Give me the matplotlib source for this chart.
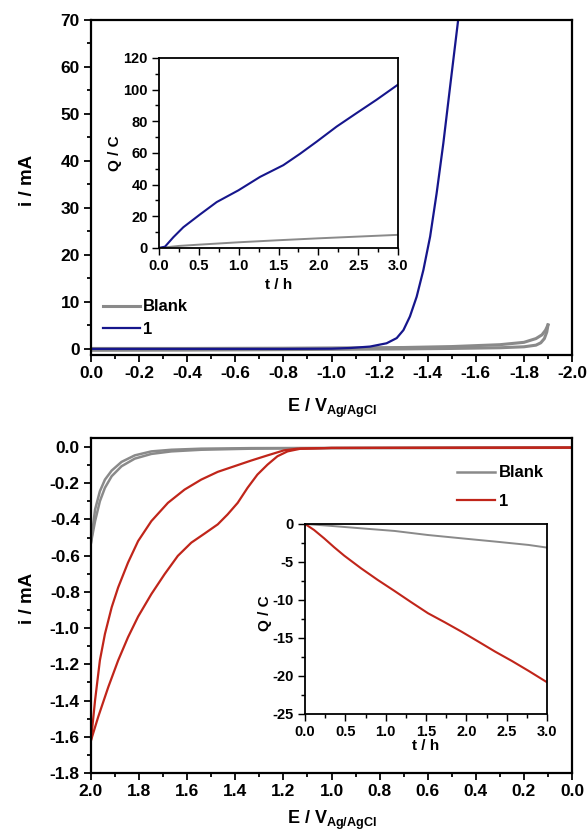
import numpy as np
import matplotlib.pyplot as plt
from matplotlib.ticker import MultipleLocator

plt.rcParams['font.family'] = ['Liberation Sans', 'DejaVu Sans']
plt.rcParams['font.weight'] = 'bold'
plt.rcParams['axes.unicode_minus'] = False
plt.rcParams['mathtext.fontset'] = 'custom'
plt.rcParams['mathtext.bf'] = 'Liberation Sans:bold'
plt.rcParams['mathtext.rm'] = 'Liberation Sans:bold'

GRAY = '#8a8a8a'
BLUE = '#16168c'
RED = '#c0251a'

# ---- top panel: cathodic sweep ----
E_blue = [0.0, -0.4, -0.8, -1.0, -1.08, -1.16, -1.229, -1.271, -1.299, -1.326,
          -1.354, -1.382, -1.410, -1.437, -1.465, -1.493, -1.527]
i_blue = [0.0, 0.0, 0.0, 0.05, 0.2, 0.5, 1.2, 2.3, 4.0, 6.9,
          11.1, 16.8, 23.9, 33.1, 43.8, 55.8, 70.2]
E_blank_fwd = [0.0, -0.4, -0.8, -1.3, -1.5, -1.7, -1.8, -1.85, -1.875, -1.89, -1.9]
i_blank_fwd = [0.1, 0.1, 0.15, 0.3, 0.5, 0.9, 1.4, 2.2, 3.0, 4.0, 5.1]
E_blank_rev = [-1.9, -1.895, -1.885, -1.87, -1.85, -1.8, -1.7, -1.5, -1.3, -0.8, -0.4, 0.0]
i_blank_rev = [5.1, 3.6, 2.2, 1.3, 0.8, 0.45, 0.25, 0.1, 0.0, -0.15, -0.25, -0.3]

t_top = [0.0, 0.075, 0.18, 0.305, 0.515, 0.724, 0.996, 1.268, 1.56, 1.77,
         1.98, 2.23, 2.48, 2.73, 3.0]
Q_blue = [0.0, 0.85, 6.8, 13.1, 21.2, 29.0, 36.4, 44.9, 52.3, 59.5,
          67.2, 76.7, 85.2, 93.6, 103.2]
t_blank_top = [0.0, 0.25, 0.5, 1.0, 1.5, 2.0, 2.5, 3.0]
Q_blank_top = [0.0, 1.3, 2.1, 3.6, 4.9, 6.1, 7.2, 8.3]

# ---- bottom panel: anodic sweep ----
E_blank2_out = [2.0, 1.983, 1.963, 1.942, 1.914, 1.873, 1.818, 1.749, 1.666,
                1.542, 1.335, 1.0, 0.5, 0.0]
i_blank2_out = [-0.528, -0.409, -0.299, -0.225, -0.161, -0.106, -0.064, -0.038,
                -0.024, -0.015, -0.009, -0.006, -0.005, -0.004]
E_blank2_in = [2.0, 1.983, 1.963, 1.942, 1.914, 1.873, 1.818, 1.749, 1.666,
               1.542, 1.335, 1.0, 0.5, 0.0]
i_blank2_in = [-0.528, -0.345, -0.244, -0.18, -0.13, -0.082, -0.046, -0.024,
               -0.015, -0.009, -0.006, -0.005, -0.004, -0.003]

E_red_in = [2.0, 1.983, 1.963, 1.942, 1.914, 1.887, 1.846, 1.804, 1.749, 1.680,
            1.611, 1.542, 1.473, 1.404, 1.335, 1.266, 1.197, 1.142, 1.0, 0.5, 0.0]
i_red_in = [-1.62, -1.398, -1.178, -1.032, -0.885, -0.775, -0.638, -0.519, -0.409,
            -0.308, -0.235, -0.180, -0.137, -0.106, -0.075, -0.046, -0.018,
            -0.009, -0.005, -0.004, -0.003]
E_red_out = [2.0, 1.970, 1.928, 1.887, 1.846, 1.804, 1.749, 1.694, 1.639, 1.583,
             1.528, 1.473, 1.432, 1.390, 1.349, 1.308, 1.266, 1.225, 1.183,
             1.128, 1.0, 0.5, 0.0]
i_red_out = [-1.62, -1.49, -1.325, -1.178, -1.05, -0.936, -0.812, -0.702, -0.601,
             -0.528, -0.478, -0.427, -0.372, -0.308, -0.225, -0.152, -0.097,
             -0.051, -0.024, -0.009, -0.005, -0.004, -0.003]

t_bot = [0.0, 0.112, 0.237, 0.362, 0.486, 0.694, 0.902, 1.11, 1.317, 1.525,
         1.733, 1.94, 2.149, 2.357, 2.565, 2.773, 3.0]
Q_red = [0.0, -0.79, -1.89, -3.07, -4.17, -5.83, -7.37, -8.82, -10.3, -11.75,
         -12.94, -14.17, -15.48, -16.8, -18.03, -19.34, -20.83]
t_blank_bot = [0.0, 0.28, 0.69, 1.11, 1.52, 1.94, 2.36, 2.77, 3.0]
Q_blank_bot = [0.0, -0.22, -0.57, -0.92, -1.45, -1.89, -2.32, -2.76, -3.11]


def style(ax, size, lw=1.6):
    for s in ax.spines.values():
        s.set_linewidth(lw)
    ax.tick_params(which='both', direction='out', width=lw * 0.8,
                   labelsize=size, top=False, right=False)
    ax.tick_params(which='major', length=5, pad=3)
    ax.tick_params(which='minor', length=3)
    for lab in ax.get_xticklabels() + ax.get_yticklabels():
        lab.set_fontweight('bold')


fig = plt.figure(figsize=(5.87, 8.33), dpi=100)

# top main
ax1 = fig.add_axes([0.155, 0.5738, 0.8195, 0.4022])
ax1.plot(E_blank_fwd, i_blank_fwd, color=GRAY, lw=2.2, label='Blank')
ax1.plot(E_blank_rev, i_blank_rev, color=GRAY, lw=2.2)
ax1.plot(E_blue, i_blue, color=BLUE, lw=1.6, label='1')
ax1.set_xlim(0, -2.0)
ax1.set_ylim(-1.3, 70)
ax1.xaxis.set_major_locator(MultipleLocator(0.2))
ax1.xaxis.set_minor_locator(MultipleLocator(0.1))
ax1.yaxis.set_major_locator(MultipleLocator(10))
ax1.yaxis.set_minor_locator(MultipleLocator(5))
ax1.set_xlabel(r'E / V$_{\mathbf{Ag/AgCl}}$', fontsize=13, fontweight='bold')
ax1.set_ylabel('i / mA', fontsize=13.5, fontweight='bold')
ax1.xaxis.set_label_coords(0.5, -0.124)
ax1.yaxis.set_label_coords(-0.114, 0.52)
style(ax1, 12.5)
ax1.legend(loc='upper left', bbox_to_anchor=(0.025, 0.166), frameon=False,
           borderpad=0, borderaxespad=0,
           handlelength=2.2, handletextpad=0.2, labelspacing=0.45,
           prop={'weight': 'bold', 'size': 12})

# top inset
ax2 = fig.add_axes([0.2709, 0.7023, 0.4072, 0.2281])
ax2.plot(t_blank_top, Q_blank_top, color=GRAY, lw=1.4)
ax2.plot(t_top, Q_blue, color=BLUE, lw=1.5)
ax2.set_xlim(0, 3)
ax2.set_ylim(0, 120)
ax2.xaxis.set_major_locator(MultipleLocator(0.5))
ax2.xaxis.set_minor_locator(MultipleLocator(0.25))
ax2.yaxis.set_major_locator(MultipleLocator(20))
ax2.yaxis.set_minor_locator(MultipleLocator(10))
ax2.set_xlabel('t / h', fontsize=11, fontweight='bold')
ax2.set_ylabel('Q / C', fontsize=11, fontweight='bold')
ax2.xaxis.set_label_coords(0.5, -0.16)
ax2.yaxis.set_label_coords(-0.154, 0.5)
style(ax2, 10.5, lw=1.3)

# bottom main
ax3 = fig.add_axes([0.155, 0.0720, 0.8195, 0.4022])
ax3.plot(E_blank2_out, i_blank2_out, color=GRAY, lw=1.8, label='Blank')
ax3.plot(E_blank2_in, i_blank2_in, color=GRAY, lw=1.8)
ax3.plot(E_red_in, i_red_in, color=RED, lw=1.6, label='1')
ax3.plot(E_red_out, i_red_out, color=RED, lw=1.6)
ax3.set_xlim(2.0, 0.0)
ax3.set_ylim(-1.8, 0.05)
ax3.xaxis.set_major_locator(MultipleLocator(0.2))
ax3.xaxis.set_minor_locator(MultipleLocator(0.1))
ax3.yaxis.set_major_locator(MultipleLocator(0.2))
ax3.yaxis.set_minor_locator(MultipleLocator(0.1))
ax3.set_xlabel(r'E / V$_{\mathbf{Ag/AgCl}}$', fontsize=13, fontweight='bold')
ax3.set_ylabel('i / mA', fontsize=13.5, fontweight='bold')
ax3.xaxis.set_label_coords(0.5, -0.106)
ax3.yaxis.set_label_coords(-0.114, 0.52)
style(ax3, 12.5)
ax3.legend(loc='upper left', bbox_to_anchor=(0.761, 0.918), frameon=False,
           borderpad=0, borderaxespad=0,
           handlelength=2.3, handletextpad=0.2, labelspacing=0.8,
           prop={'weight': 'bold', 'size': 12})

# bottom inset
ax4 = fig.add_axes([0.5196, 0.1429, 0.4123, 0.2281])
ax4.plot(t_blank_bot, Q_blank_bot, color=GRAY, lw=1.4)
ax4.plot(t_bot, Q_red, color=RED, lw=1.5)
ax4.set_xlim(0, 3)
ax4.set_ylim(-25, 0)
ax4.xaxis.set_major_locator(MultipleLocator(0.5))
ax4.xaxis.set_minor_locator(MultipleLocator(0.25))
ax4.yaxis.set_major_locator(MultipleLocator(5))
ax4.yaxis.set_minor_locator(MultipleLocator(2.5))
ax4.set_xlabel('t / h', fontsize=11, fontweight='bold')
ax4.set_ylabel('Q / C', fontsize=11, fontweight='bold')
ax4.xaxis.set_label_coords(0.5, -0.13)
ax4.yaxis.set_label_coords(-0.137, 0.53)
style(ax4, 10.5, lw=1.3)

fig.savefig('out.png', dpi=100)
